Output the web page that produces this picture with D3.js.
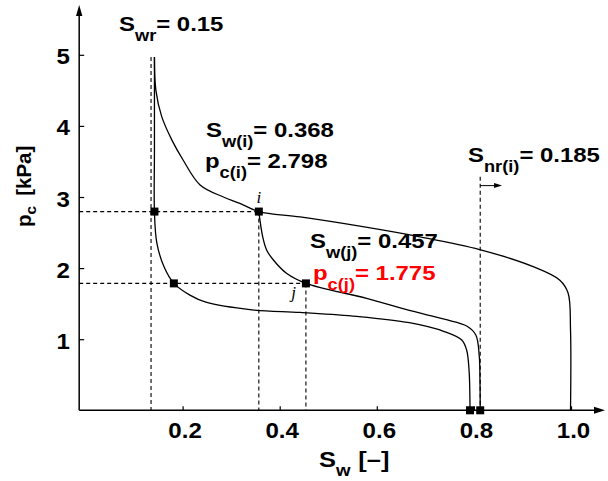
<!DOCTYPE html>
<html>
<head>
<meta charset="utf-8">
<script src="https://cdn.jsdelivr.net/npm/d3@7"></script>
<style>
  html, body { margin: 0; padding: 0; background: #fff; }
  svg { display: block; }
</style>
</head>
<body>
<div id="chart"></div>
<script>
// ---- data (Sw [-], pc [kPa]) ----
var xTicks = [0.2, 0.4, 0.6, 0.8, 1.0];
var yTicks = [1, 2, 3, 4, 5];

// primary drainage (outer curve)
var drainage = [[0.142, 4.97], [0.145, 4.5], [0.157, 4.13], [0.178, 3.8], [0.201, 3.52],
  [0.236, 3.17], [0.284, 3.0], [0.318, 2.91], [0.357, 2.795], [0.442, 2.72], [0.565, 2.59],
  [0.689, 2.44], [0.812, 2.26], [0.922, 2.02], [0.977, 1.83], [0.994, 1.65], [0.999, 1.13], [0.999, 0]];

// inner curve starting at Swr
var inner = [[0.142, 4.97], [0.142, 3.66], [0.142, 2.795], [0.147, 2.35], [0.162, 2.015],
  [0.182, 1.785], [0.215, 1.62], [0.248, 1.52], [0.343, 1.413], [0.442, 1.376], [0.559, 1.321],
  [0.667, 1.232], [0.739, 1.108], [0.775, 0.988], [0.785, 0.848], [0.790, 0.567], [0.792, 0]];

// scanning curve from i through j
var scanning = [[0.357, 2.795], [0.365, 2.44], [0.373, 2.255], [0.387, 2.114], [0.414, 1.927],
  [0.454, 1.785], [0.579, 1.575], [0.667, 1.404], [0.739, 1.281], [0.786, 1.183], [0.804, 1.059],
  [0.811, 0.764], [0.8125, 0.426], [0.813, 0]];

// square markers
var markers = [[0.142, 2.795], [0.357, 2.795], [0.182, 1.785], [0.454, 1.785], [0.792, 0], [0.813, 0]];

// dashed guides
var vGuides = [[0.135, 4.97], [0.357, 2.795], [0.454, 1.785], [0.813, 3.285]]; // [Sw, top pc]
var hGuides = [[2.795, 0.357], [1.785, 0.454]];                               // [pc, end Sw]
var snrArrow = [0.813, 0.858, 3.16];                                          // from Sw, to Sw, pc

////////////////basic layout//////////////////
var width = 608, height = 481;
var svg = d3.select("#chart").append("svg")
  .attr("width", width).attr("height", height);

var x = d3.scaleLinear().domain([0, 1]).range([85.5, 571]);
var y = d3.scaleLinear().domain([0, 5]).range([410.3, 54.8]);
var xMin = -0.013, xMax = 1.07, yMax = 5.7;

var FONT = "'Liberation Sans', Arial, Helvetica, sans-serif";

// dashed guide lines
svg.selectAll(".vg").data(vGuides).enter().append("line")
  .attr("x1", d => x(d[0])).attr("x2", d => x(d[0]))
  .attr("y1", d => y(d[1])).attr("y2", y(0))
  .attr("stroke", "#000").attr("stroke-width", 1.1).attr("stroke-dasharray", "4,3");
svg.selectAll(".hg").data(hGuides).enter().append("line")
  .attr("x1", x(xMin)).attr("x2", d => x(d[1]))
  .attr("y1", d => y(d[0])).attr("y2", d => y(d[0]))
  .attr("stroke", "#000").attr("stroke-width", 1.1).attr("stroke-dasharray", "4,3");

// curves
var line = d3.line()
  .x(d => x(d[0])).y(d => y(d[1]))
  .curve(d3.curveCatmullRom.alpha(0.5));
[drainage, inner, scanning].forEach(function(c) {
  svg.append("path").attr("d", line(c))
    .attr("fill", "none").attr("stroke", "#000").attr("stroke-width", 1.3);
});

// axes
var ax = svg.append("g").attr("stroke", "#000");
ax.append("line").attr("x1", x(xMin)).attr("x2", x(xMax) - 8)
  .attr("y1", y(0)).attr("y2", y(0)).attr("stroke-width", 1.5);
ax.append("line").attr("x1", x(xMin)).attr("x2", x(xMin))
  .attr("y1", y(0)).attr("y2", y(yMax) + 8).attr("stroke-width", 1.5);
svg.append("path")
  .attr("d", "M" + x(xMax) + "," + y(0) + "l-11,-3.5l0,7z").attr("fill", "#000");
svg.append("path")
  .attr("d", "M" + x(xMin) + "," + y(yMax) + "l-3.2,11l6.4,0z").attr("fill", "#000");

svg.append("g").attr("transform", "translate(0," + y(0) + ")")
  .call(d3.axisTop(x).tickValues(xTicks).tickSize(4).tickFormat(""))
  .call(g => g.select(".domain").remove())
  .selectAll("line").attr("stroke-width", 1.2);
svg.append("g").attr("transform", "translate(" + x(xMin) + ",0)")
  .call(d3.axisRight(y).tickValues(yTicks).tickSize(5).tickFormat(""))
  .call(g => g.select(".domain").remove())
  .selectAll("line").attr("stroke-width", 1.2);

// Snr arrow
svg.append("line").attr("x1", x(snrArrow[0])).attr("x2", x(snrArrow[1]) - 7)
  .attr("y1", y(snrArrow[2])).attr("y2", y(snrArrow[2]))
  .attr("stroke", "#000").attr("stroke-width", 1);
svg.append("path")
  .attr("d", "M" + x(snrArrow[1]) + "," + y(snrArrow[2]) + "l-8,-2.5l0,5z").attr("fill", "#000");

// square markers
svg.selectAll(".mk").data(markers).enter().append("rect")
  .attr("x", d => x(d[0]) - 4).attr("y", d => y(d[1]) - 4)
  .attr("width", 8).attr("height", 8).attr("fill", "#000");

// text with subscripts, stretched a bit horizontally like the original
function richText(px, py, parts, opt) {
  var t = svg.append("text")
    .attr("transform", "translate(" + px + "," + py + ") scale(" + (opt.sx || 1) + ",1)" + (opt.rot ? " rotate(" + opt.rot + ")" : ""))
    .attr("font-family", FONT).attr("font-weight", "bold")
    .attr("fill", opt.fill || "#000")
    .attr("text-anchor", opt.anchor || "start")
    .style("white-space", "pre");
  var cur = 0;
  parts.forEach(function(p) {
    var off = p.sub ? opt.shift : 0;
    t.append("tspan")
      .attr("font-size", p.sub ? opt.sub : opt.size)
      .attr("dy", off - cur)
      .attr("dx", p.dx || 0)
      .text(p.t);
    cur = off;
  });
  return t;
}

// tick labels
xTicks.forEach(function(v) {
  richText(x(v) + 2.5, 437.5, [{t: d3.format(".1f")(v)}], {size: 21.5, sx: 1.12, anchor: "middle"});
});
yTicks.forEach(function(v) {
  richText(70, y(v) + 9.5, [{t: String(v)}], {size: 21.5, sx: 1.12, anchor: "end"});
});

// axis titles
richText(319, 467, [{t: "S"}, {t: "w", sub: true}, {t: "[–]", dx: 7}], {size: 22.5, sub: 16.5, shift: 9, sx: 1.13});
richText(31, 227, [{t: "p"}, {t: "c", sub: true}, {t: "[kPa]", dx: 10}], {size: 20.5, sub: 15.5, shift: 5, rot: -90});

// annotations
var A = {size: 21, sub: 16, shift: 10, sx: 1.14};
richText(119, 30.7, [{t: "S"}, {t: "wr", sub: true}, {t: "= 0.15"}], A);
richText(206, 136.7, [{t: "S"}, {t: "w(i)", sub: true}, {t: "= 0.368"}], A);
richText(205, 168, [{t: "p"}, {t: "c(i)", sub: true}, {t: "= 2.798"}], A);
richText(468, 161.7, [{t: "S"}, {t: "nr(i)", sub: true}, {t: "= 0.185"}], A);
richText(310, 248.3, [{t: "S"}, {t: "w(j)", sub: true}, {t: "= 0.457"}], A);
richText(313, 280, [{t: "p"}, {t: "c(j)", sub: true}, {t: "= 1.775"}],
  {size: 21, sub: 16, shift: 10, sx: 1.14, fill: "#ff0000"});

// point names
svg.append("text").attr("x", x(0.357)).attr("y", 203)
  .attr("font-family", "'Liberation Serif', 'DejaVu Serif', serif").attr("font-style", "italic")
  .attr("font-size", 17).attr("text-anchor", "middle").text("i");
svg.append("text").attr("x", 293.5).attr("y", 297.5)
  .attr("font-family", "'Liberation Serif', 'DejaVu Serif', serif").attr("font-style", "italic")
  .attr("font-size", 17).attr("text-anchor", "middle").text("j");
</script>
</body>
</html>
